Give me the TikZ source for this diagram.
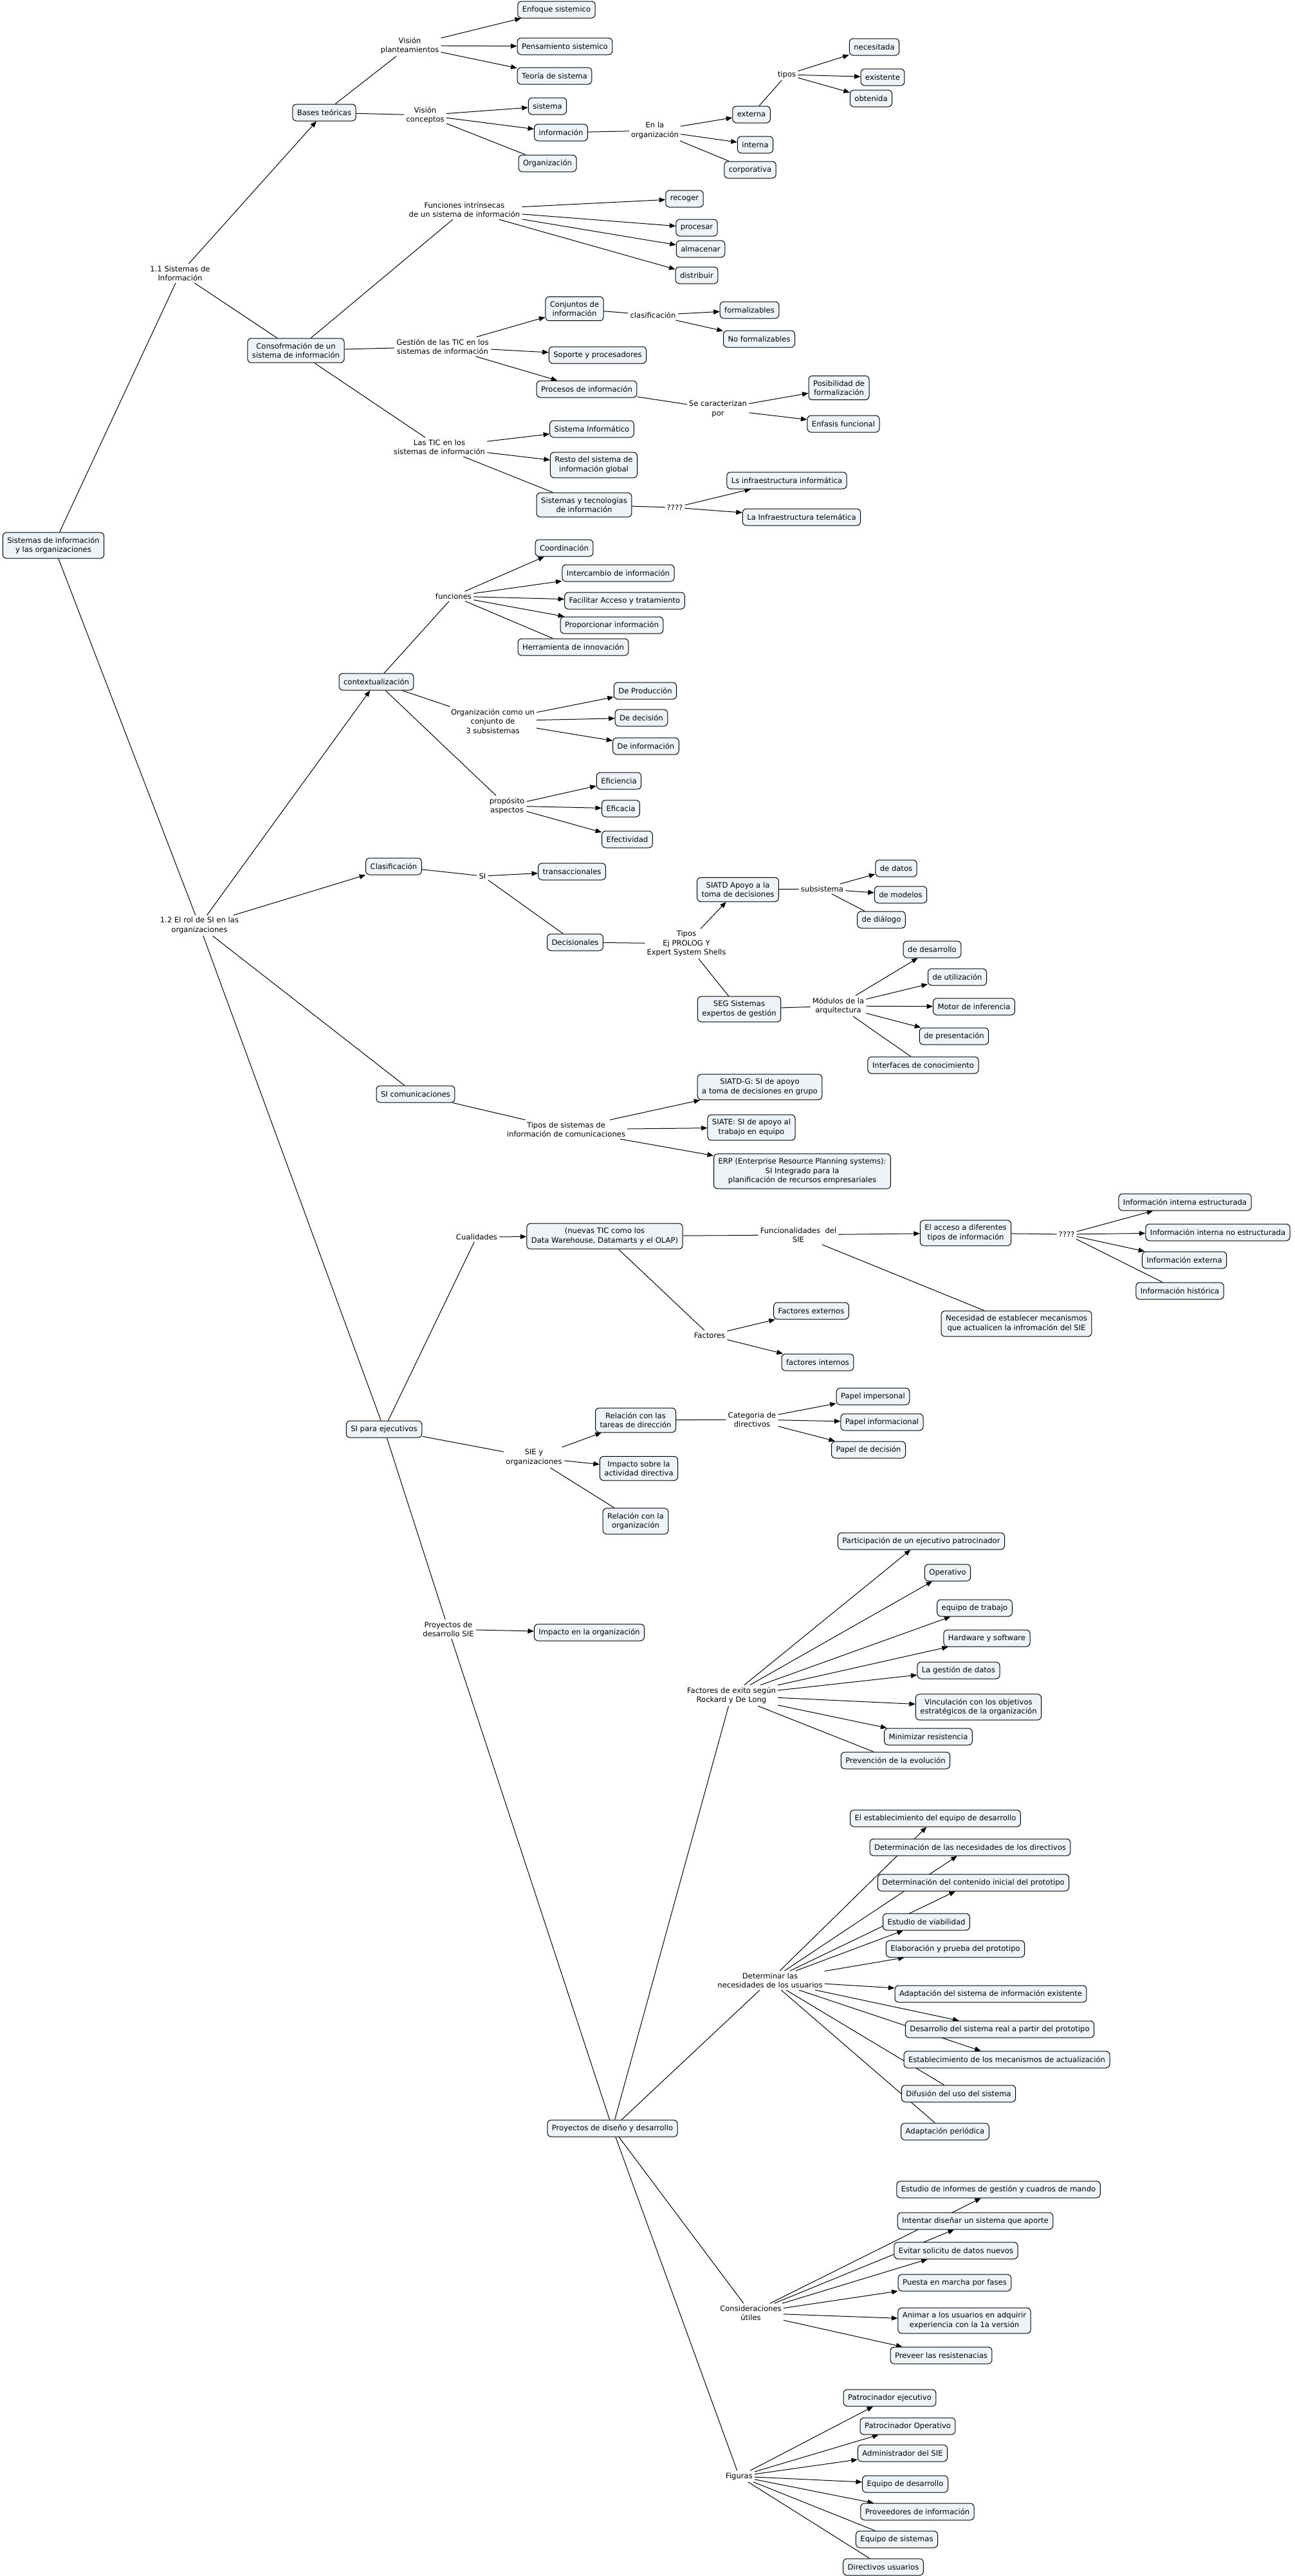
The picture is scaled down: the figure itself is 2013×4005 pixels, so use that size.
\documentclass[tikz,border=0pt]{standalone}
\usepackage{fontspec}
\setmainfont{DejaVu Sans}
\usetikzlibrary{arrows.meta,backgrounds}
\definecolor{conceptfill}{RGB}{237,243,246}

\begin{document}
\begin{tikzpicture}
[x=1pt,y=-1pt,
  conceptdecorate/.style={shape=rectangle,rounded corners=6pt,draw,line width=1pt,
    fill=conceptfill,align=center,inner xsep=7pt,inner ysep=7pt,minimum height=26pt,
    font=\fontsize{11.6}{14.5}\selectfont},%
  linkdecorate/.style={align=center,inner sep=3pt,font=\fontsize{11.6}{14.5}\selectfont},%
  linedecorate/.style={-,line width=1pt},%
  arrowdecorate/.style={-{Triangle[length=9.5pt,width=7.5pt]},line width=1pt}]
\useasboundingbox (0,0) rectangle (2013,4005);
%% concepts
\foreach \nodename/\x/\y/\nodetext in {
  root/83/848/{Sistemas de información\\y las organizaciones},
  bases/504/175/{Bases teóricas},
  enfoque/865/15/{Enfoque sistemico},
  pensamiento/878/72/{Pensamiento sistemico},
  teoria/862/118/{Teoría de sistema},
  sistema/851/165/{sistema},
  informacion/872/206/{información},
  organizacion/851/254/{Organización},
  externa/1168/178/{externa},
  interna/1174/225/{interna},
  corporativa/1166/264/{corporativa},
  necesitada/1359/73/{necesitada},
  existente/1372/120/{existente},
  obtenida/1354/153/{obtenida},
  recoger/1064/309/{recoger},
  procesar/1083/354/{procesar},
  almacenar/1089/387/{almacenar},
  distribuir/1083/428/{distribuir},
  consofrmacion/460/545/{Consofrmación de un\\sistema de información},
  conjuntos/893/480/{Conjuntos de\\información},
  formalizables/1165/482/{formalizables},
  noformalizables/1180/527/{No formalizables},
  soporte/929/552/{Soporte y procesadores},
  procesos/912/605/{Procesos de información},
  posibilidad/1304/603/{Posibilidad de\\formalización},
  enfasis/1311/659/{Enfasis funcional},
  sisinformatico/920/667/{Sistema Informático},
  resto/923/723/{Resto del sistema de\\información global},
  sistecnologias/908/785/{Sistemas y tecnologías\\de información},
  lsinfra/1223/747/{Ls infraestructura informática},
  lainfra/1246/804/{La Infraestructura telemática},
  coordinacion/877/852/{Coordinación},
  intercambio/961/891/{Intercambio de información},
  facilitar/971/934/{Facilitar Acceso y tratamiento},
  proporcionar/951/972/{Proporcionar información},
  herramienta/891/1006/{Herramienta de innovación},
  contextualizacion/585/1060/{contextualización},
  produccion/1003/1074/{De Producción},
  decision/997/1116/{De decisión},
  deinformacion/1004/1160/{De información},
  eficiencia/962/1214/{Eficiencia},
  eficacia/965/1257/{Eficacia},
  efectividad/975/1305/{Efectividad},
  clasificacion/612/1347/{Clasificación},
  transaccionales/889/1355/{transaccionales},
  decisionales/894/1465/{Decisionales},
  siatd/1147/1383/{SIATD Apoyo a la\\toma de decisiones},
  dedatos/1393/1350/{de datos},
  demodelos/1400/1391/{de modelos},
  dedialogo/1370/1430/{de diálogo},
  seg/1149/1569/{SEG Sistemas\\expertos de gestión},
  dedesarrollo/1449/1476/{de desarrollo},
  deutilizacion/1488/1519/{de utilización},
  motor/1514/1565/{Motor de inferencia},
  depresentacion/1483/1611/{de presentación},
  interfaces/1435/1656/{Interfaces de conocimiento},
  sicomunicaciones/646/1701/{SI comunicaciones},
  siatdg/1181/1690/{SIATD-G: SI de apoyo\\a toma de decisiones en grupo},
  siate/1168/1753/{SIATE: SI de apoyo al\\trabajo en equipo},
  erp/1247/1821/{ERP (Enterprise Resource Planning systems):\\SI Integrado para la\\planificación de recursos empresariales},
  nuevastic/940/1922/{(nuevas TIC como los\\Data Warehouse, Datamarts y el OLAP)},
  acceso/1501/1917/{El acceso a diferentes\\tipos de información},
  intestructurada/1842/1869/{Información interna estructurada},
  intnoestructurada/1893/1916/{Información interna no estructurada},
  infexterna/1841/1959/{Información externa},
  infhistorica/1834/2007/{Información histórica},
  necesidad/1580/2058/{Necesidad de establecer mecanismos\\que actualicen la infromación del SIE},
  factext/1261/2038/{Factores externos},
  factint/1271/2118/{factores internos},
  siejecutivos/597/2222/{SI para ejecutivos},
  relaciontareas/988/2208/{Relación con las\\tareas de dirección},
  impersonal/1357/2171/{Papel impersonal},
  informacional/1371/2211/{Papel informacional},
  papeldecision/1350/2254/{Papel de decisión},
  impactoactividad/993/2283/{Impacto sobre la\\actividad directiva},
  relacionorg/988/2365/{Relación con la\\organización},
  impactoorg/916/2538/{Impacto en la organización},
  participacion/1432/2396/{Participación de un ejecutivo patrocinador},
  operativo/1473/2445/{Operativo},
  equipotrabajo/1515/2500/{equipo de trabajo},
  hardware/1534/2547/{Hardware y software},
  gestiondatos/1490/2597/{La gestión de datos},
  vinculacion/1521/2654/{Vinculación con los objetivos\\estratégicos de la organización},
  minimizar/1443/2700/{Minimizar resistencia},
  prevencion/1392/2737/{Prevención de la evolución},
  establecimiento/1454/2827/{El establecimiento del equipo de desarrollo},
  detnecesidades/1508/2872/{Determinación de las necesidades de los directivos},
  detcontenido/1513/2927/{Determinación del contenido inicial del prototipo},
  viabilidad/1440/2988/{Estudio de viabilidad},
  elaboracion/1485/3030/{Elaboración y prueba del prototipo},
  adaptacionsis/1540/3100/{Adaptación del sistema de información existente},
  desarrolloreal/1554/3155/{Desarrollo del sistema real a partir del prototipo},
  mecanismos/1565/3202/{Establecimiento de los mecanismos de actualización},
  difusion/1490/3255/{Difusión del uso del sistema},
  adaptacionper/1469/3314/{Adaptación periódica},
  proyectosdiseno/952/3309/{Proyectos de diseño y desarrollo},
  informes/1552/3404/{Estudio de informes de gestión y cuadros de mando},
  intentar/1516/3453/{Intentar diseñar un sistema que aporte},
  evitar/1486/3499/{Evitar solicitu de datos nuevos},
  puesta/1484/3549/{Puesta en marcha por fases},
  animar/1499/3608/{Animar a los usuarios en adquirir\\experiencia con la 1a versión},
  preveer/1463/3662/{Preveer las resistenacias},
  patejecutivo/1383/3728/{Patrocinador ejecutivo},
  patoperativo/1411/3772/{Patrocinador Operativo},
  administrador/1403/3814/{Administrador del SIE},
  equipodesarrollo/1407/3862/{Equipo de desarrollo},
  proveedores/1426/3905/{Proveedores de información},
  equiposistemas/1394/3948/{Equipo de sistemas},
  directivos/1373/3991/{Directivos usuarios}}
{
  \node (\nodename) at (\x,\y) [conceptdecorate] {\nodetext};
}
%% linking phrases
\foreach \nodename/\x/\y/\nodetext in {
  l11/280/425/{1.1 Sistemas de\\Información},
  lplanteamientos/637/71/{Visión\\planteamientos},
  lconceptos/661/179/{Visión\\conceptos},
  lenorg/1018/203/{En la\\organización},
  ltipos/1223/116/{tipos},
  lfunciones/722/326/{Funciones intrínsecas\\de un sistema de información},
  lgestion/688/539/{Gestión de las TIC en los\\sistemas de información},
  lclasificacion/1015/490/{clasificación},
  lcaracterizan/1116/636/{Se caracterizan\\por},
  lastic/683/695/{Las TIC en los\\sistemas de información},
  lqq/1049/789/{????},
  lfuncionescx/705/927/{funciones},
  lorganizacion/766/1121/{Organización como un\\conjunto de\\3 subsistemas},
  lproposito/788/1253/{propósito\\aspectos},
  l12/310/1439/{1.2 El rol de SI en las\\organizaciones},
  lsi/750/1362/{SI},
  ltipossi/1067/1467/{Tipos\\Ej PROLOG Y\\Expert System Shells},
  lsubsistema/1278/1382/{subsistema},
  lmodulos/1303/1564/{Módulos de la\\arquitectura},
  ltiposcom/880/1756/{Tipos de sistemas de\\información de comunicaciones},
  lcualidades/741/1923/{Cualidades},
  lfuncionalidades/1241/1920/{Funcionalidades~ del\\SIE},
  lqqsie/1658/1919/{????},
  lfactores/1103/2076/{Factores},
  lsie/830/2266/{SIE y\\organizaciones},
  lcategoria/1169/2207/{Categoria de\\directivos},
  lproyectossie/697/2533/{Proyectos de\\desarrollo SIE},
  lexito/1137/2636/{Factores de exito según\\Rockard y De Long},
  ldeterminar/1197/3079/{Determinar las\\necesidades de los usuarios},
  lconsideraciones/1167/3596/{Consideraciones\\útiles},
  lfiguras/1149/3850/{Figuras}}
{
  \node (\nodename) at (\x,\y) [linkdecorate] {\nodetext};
}
%% connectors, behind the boxes
\begin{pgfonlayer}{background}
\path
\foreach \startnode/\endnode in {root/l11, l11/consofrmacion, root/l12,
  bases/lplanteamientos, bases/lconceptos, lconceptos/organizacion,
  informacion/lenorg, lenorg/corporativa, externa/ltipos,
  consofrmacion/lfunciones, consofrmacion/lgestion, consofrmacion/lastic,
  conjuntos/lclasificacion, procesos/lcaracterizan, lastic/sistecnologias,
  sistecnologias/lqq, contextualizacion/lfuncionescx, lfuncionescx/herramienta,
  contextualizacion/lorganizacion, contextualizacion/lproposito,
  clasificacion/lsi, lsi/decisionales, decisionales/ltipossi, ltipossi/seg,
  siatd/lsubsistema, lsubsistema/dedialogo, seg/lmodulos, lmodulos/interfaces,
  l12/sicomunicaciones, sicomunicaciones/ltiposcom, l12/siejecutivos,
  siejecutivos/lcualidades, nuevastic/lfuncionalidades,
  lfuncionalidades/necesidad, acceso/lqqsie, lqqsie/infhistorica,
  nuevastic/lfactores, siejecutivos/lsie, lsie/relacionorg,
  relaciontareas/lcategoria, siejecutivos/lproyectossie,
  lproyectossie/proyectosdiseno, proyectosdiseno/lexito, lexito/prevencion,
  proyectosdiseno/ldeterminar, ldeterminar/difusion, ldeterminar/adaptacionper,
  proyectosdiseno/lconsideraciones, proyectosdiseno/lfiguras,
  lfiguras/equiposistemas, lfiguras/directivos}
{
  (\startnode) edge[linedecorate] (\endnode)
};
\path
\foreach \startnode/\endnode in {l11/bases, l12/contextualizacion, l12/clasificacion,
  lplanteamientos/enfoque, lplanteamientos/pensamiento, lplanteamientos/teoria,
  lconceptos/sistema, lconceptos/informacion, lenorg/externa, lenorg/interna,
  ltipos/necesitada, ltipos/existente, ltipos/obtenida,
  lfunciones/recoger, lfunciones/procesar, lfunciones/almacenar, lfunciones/distribuir,
  lgestion/conjuntos, lgestion/soporte, lgestion/procesos,
  lclasificacion/formalizables, lclasificacion/noformalizables,
  lcaracterizan/posibilidad, lcaracterizan/enfasis,
  lastic/sisinformatico, lastic/resto, lqq/lsinfra, lqq/lainfra,
  lfuncionescx/coordinacion, lfuncionescx/intercambio, lfuncionescx/facilitar,
  lfuncionescx/proporcionar, lorganizacion/produccion, lorganizacion/decision,
  lorganizacion/deinformacion, lproposito/eficiencia, lproposito/eficacia,
  lproposito/efectividad, lsi/transaccionales, ltipossi/siatd,
  lsubsistema/dedatos, lsubsistema/demodelos, lmodulos/dedesarrollo,
  lmodulos/deutilizacion, lmodulos/motor, lmodulos/depresentacion,
  ltiposcom/siatdg, ltiposcom/siate, ltiposcom/erp, lcualidades/nuevastic,
  lfuncionalidades/acceso, lqqsie/intestructurada, lqqsie/intnoestructurada,
  lqqsie/infexterna, lfactores/factext, lfactores/factint,
  lsie/relaciontareas, lsie/impactoactividad, lcategoria/impersonal,
  lcategoria/informacional, lcategoria/papeldecision, lproyectossie/impactoorg,
  lexito/participacion, lexito/operativo, lexito/equipotrabajo, lexito/hardware,
  lexito/gestiondatos, lexito/vinculacion, lexito/minimizar,
  ldeterminar/establecimiento, ldeterminar/detnecesidades, ldeterminar/detcontenido,
  ldeterminar/viabilidad, ldeterminar/elaboracion, ldeterminar/adaptacionsis,
  ldeterminar/desarrolloreal, ldeterminar/mecanismos,
  lconsideraciones/informes, lconsideraciones/intentar, lconsideraciones/evitar,
  lconsideraciones/puesta, lconsideraciones/animar, lconsideraciones/preveer,
  lfiguras/patejecutivo, lfiguras/patoperativo, lfiguras/administrador,
  lfiguras/equipodesarrollo, lfiguras/proveedores}
{
  (\startnode) edge[arrowdecorate] (\endnode)
};
\end{pgfonlayer}
\end{tikzpicture}
\end{document}
